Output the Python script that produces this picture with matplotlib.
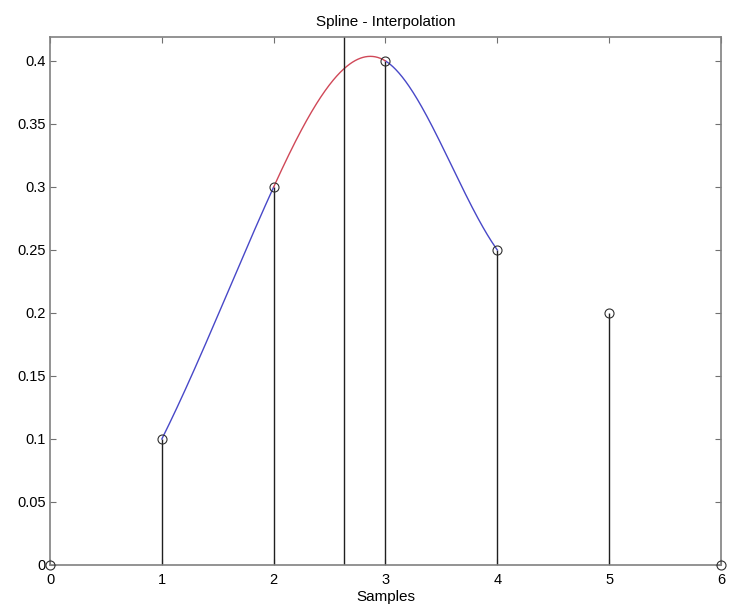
import numpy as np
import matplotlib
matplotlib.use("Agg")
import matplotlib.pyplot as plt

plt.rcParams['font.family'] = ['Liberation Sans', 'DejaVu Sans']

# sampled signal
n = np.arange(7)
x_n = [0, 0.1, 0.3, 0.4, 0.25, 0.2, 0]
x_query = 2.63          # point where the spline is evaluated
curve_range = (1, 4)    # part of the spline that is drawn

# cubic spline (not-a-knot) through the samples, unit spacing
y = np.array(x_n, dtype=float)
N = len(y)
A = np.zeros((N, N))
b = np.zeros(N)
A[0, :3] = [1, -2, 1]
A[-1, -3:] = [1, -2, 1]
for i in range(1, N - 1):
    A[i, i - 1:i + 2] = [1, 4, 1]
    b[i] = 6 * (y[i - 1] - 2 * y[i] + y[i + 1])
M = np.linalg.solve(A, b)

def spline(x):
    x = np.asarray(x, dtype=float)
    i = np.clip(np.floor(x).astype(int), 0, N - 2)
    t = x - i
    return ((1 - t) * y[i] + t * y[i + 1]
            + ((1 - t) ** 3 - (1 - t)) * M[i] / 6
            + (t ** 3 - t) * M[i + 1] / 6)

fig = plt.figure(figsize=(7.39, 6.07), dpi=100)
ax = fig.add_axes([0.0677, 0.0692, 0.9079, 0.8698])

# stems
ax.vlines(n, 0, x_n, color='#202020', lw=1.0)
ax.plot(n, x_n, 'o', ms=6.5, mfc='none', mec='#303030', mew=0.8, clip_on=False, zorder=4)

# interpolated curve, the segment around x_query in red
seg = int(np.floor(x_query))
xs = np.linspace(curve_range[0], curve_range[1], 400)
ax.plot(xs[xs <= seg], spline(xs[xs <= seg]), color='#4848c8', lw=1.0)
ax.plot(xs[xs >= seg + 1], spline(xs[xs >= seg + 1]), color='#4848c8', lw=1.0)
mid = (xs >= seg) & (xs <= seg + 1)
ax.plot(xs[mid], spline(xs[mid]), color='#d04858', lw=1.0)

ax.axvline(x_query, color='#202020', lw=1.0)

ax.set_xlim(0, 6)
ax.set_ylim(0, 0.419)
ax.set_xticks(range(7))
ax.set_yticks(np.arange(0, 0.401, 0.05))
ax.set_yticklabels(['0', '0.05', '0.1', '0.15', '0.2', '0.25', '0.3', '0.35', '0.4'])
ax.tick_params(direction='in', length=4, width=0.8, color='#707070',
               top=True, right=True, labelsize=10.5, pad=3)
ax.tick_params(axis='x', pad=6)
for s in ax.spines.values():
    s.set_color('#808080')
    s.set_linewidth(1.2)

ax.set_title('Spline - Interpolation', fontsize=11, pad=8)
ax.set_xlabel('Samples', fontsize=11, labelpad=2)

fig.savefig('out.png', dpi=100)
